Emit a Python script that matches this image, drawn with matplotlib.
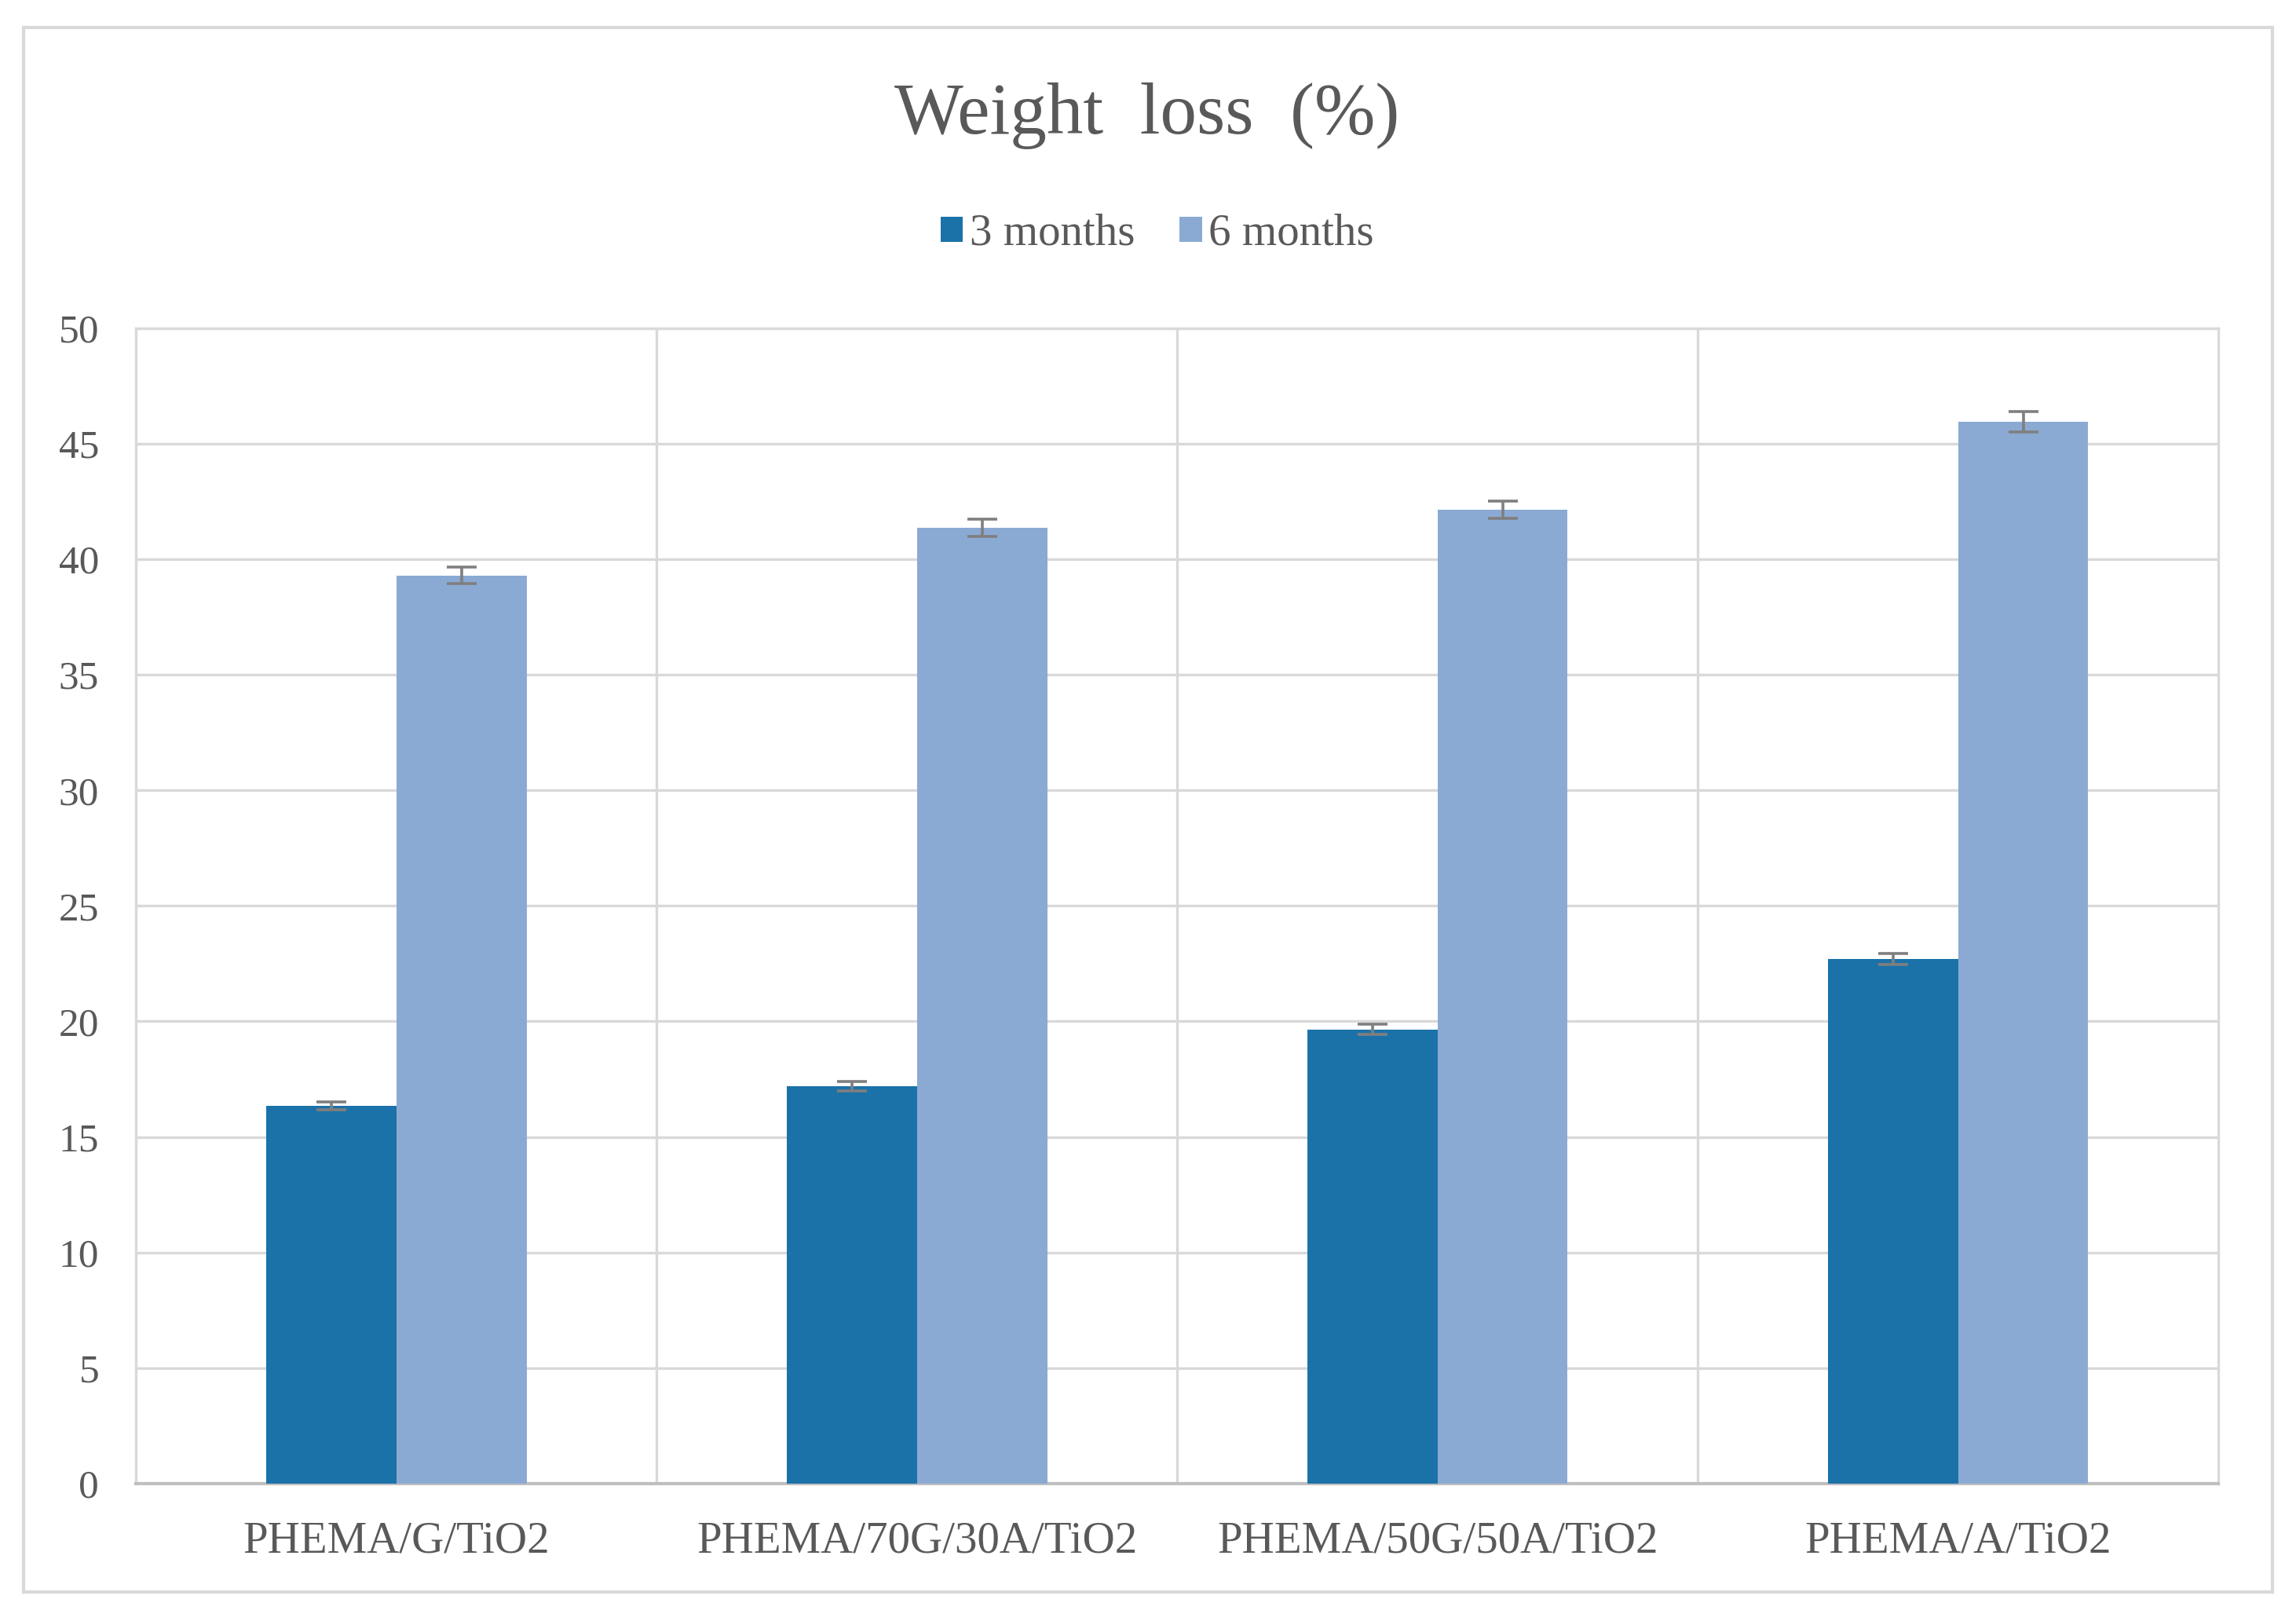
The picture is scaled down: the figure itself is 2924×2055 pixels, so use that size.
import numpy as np
import matplotlib.pyplot as plt
from matplotlib.patches import Rectangle

# data
samples = ["PHEMA/G/TiO2", "PHEMA/70G/30A/TiO2", "PHEMA/50G/50A/TiO2", "PHEMA/A/TiO2"]
loss_3m = [16.35, 17.2, 19.65, 22.7]
loss_6m = [39.3, 41.35, 42.15, 45.95]
err_3m = [0.18, 0.2, 0.22, 0.25]
err_6m = [0.35, 0.38, 0.38, 0.45]

plt.rcParams['font.family'] = ['Liberation Serif', 'DejaVu Serif']
txt = "#595959"
c3 = "#1B72A9"
c6 = "#8BAAD3"

fig = plt.figure(figsize=(14.62, 10.275), dpi=200)
# outer chart frame like the Excel chart area
fig.patches.append(Rectangle((0.0102, 0.0136), 0.9796, 0.9692, transform=fig.transFigure,
                             fill=False, edgecolor="#D9D9D9", linewidth=1.5))

ax = fig.add_axes([0.0593, 0.0808, 0.9069, 0.7159])
x = np.arange(len(samples))
w = 0.25
ekw = dict(ecolor="#7F7F7F", elinewidth=1.3, capsize=7, capthick=1.3)
ax.bar(x - w / 2, loss_3m, w, color=c3, yerr=err_3m, error_kw=ekw, label="3 months", zorder=3)
ax.bar(x + w / 2, loss_6m, w, color=c6, yerr=err_6m, error_kw=ekw, label="6 months", zorder=3)

ax.set_xlim(-0.5, 3.5)
ax.set_ylim(0, 50)
ax.set_yticks(np.arange(0, 51, 5))
ax.set_xticks(x)
ax.set_xticklabels(samples)
ax.set_xticks(x[:-1] + 0.5, minor=True)
ax.grid(axis="y", color="#D9D9D9", linewidth=1.2, zorder=0)
ax.grid(axis="x", which="minor", color="#D9D9D9", linewidth=1.2, zorder=0)
ax.tick_params(axis="both", which="both", length=0, colors=txt)
ax.tick_params(axis="y", pad=17, labelsize=18.5)
ax.tick_params(axis="x", pad=17, labelsize=20.5)
for s in ["left", "right", "top"]:
    ax.spines[s].set_color("#D9D9D9")
    ax.spines[s].set_linewidth(1.2)
ax.spines["bottom"].set_color("#BFBFBF")
ax.spines["bottom"].set_linewidth(1.5)

fig.text(0.4995, 0.928, "Weight  loss  (%)", ha="center", va="center", fontsize=33.5, color=txt)
fig.legend(loc="center", bbox_to_anchor=(0.504, 0.855), ncol=2, frameon=False,
           fontsize=20.5, handlelength=0.5, handleheight=0.5, handletextpad=0.15,
           columnspacing=1.0, labelcolor=txt)

fig.savefig("out.png", dpi=200)
